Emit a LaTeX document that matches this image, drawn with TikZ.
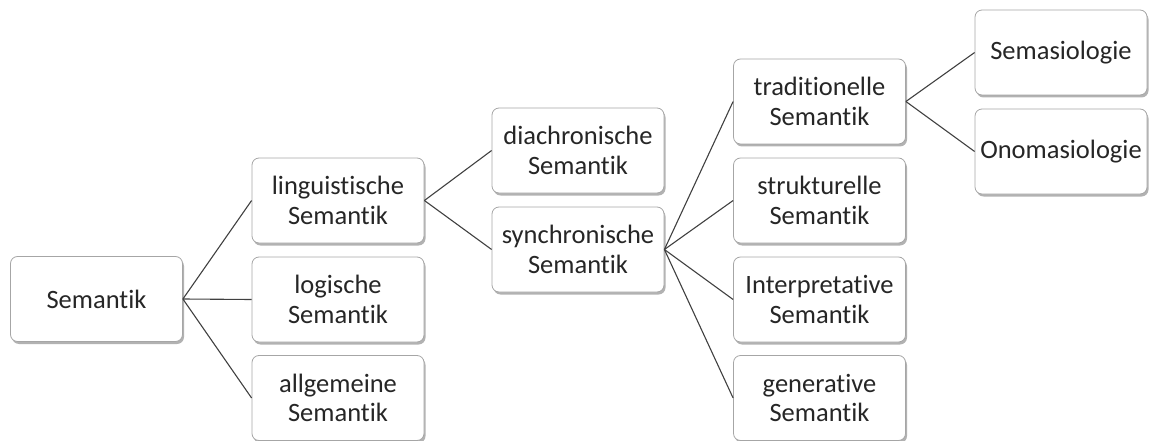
\documentclass[tikz,border=0pt]{standalone}
\usepackage{fontspec}
\setmainfont{Carlito}[Ligatures={NoCommon,NoContextual}]
\usetikzlibrary{shadows}
\definecolor{boxline}{HTML}{A6A6A6}
\definecolor{conn}{HTML}{404040}
\definecolor{txt}{HTML}{262626}
\tikzset{
  box/.style={draw=boxline, line width=0.8pt, rounded corners=7pt, fill=white,
    minimum width=172pt, minimum height=85pt, inner sep=0pt, align=center,
    font=\fontsize{26.5}{29.5}\selectfont, text=txt,
    drop shadow={shadow xshift=1.5pt, shadow yshift=-2.5pt, opacity=0.3, fill=black}},
  link/.style={draw=conn, line width=1.1pt}
}
\begin{document}
\begin{tikzpicture}[x=1pt,y=-1pt]
\useasboundingbox (0,0) rectangle (1151,441);
\node[box] (sem) at (96.5,299) {Semantik};
\node[box] (ling) at (338,200.5) {linguistische\\Semantik};
\node[box] (log) at (338,299.5) {logische\\Semantik};
\node[box] (allg) at (338,398) {allgemeine\\Semantik};
\node[box] (dia) at (578,150.5) {diachronische\\Semantik};
\node[box] (syn) at (578,249.5) {synchronische\\Semantik};
\node[box] (trad) at (819.5,101.5) {traditionelle\\Semantik};
\node[box] (strukt) at (819.5,200.5) {strukturelle\\Semantik};
\node[box] (interp) at (819.5,299.5) {Interpretative\\Semantik};
\node[box] (gen) at (819.5,398) {generative\\Semantik};
\node[box] (sema) at (1061,52.5) {Semasiologie};
\node[box] (onoma) at (1061,151.5) {Onomasiologie};
\draw[link] (sem.east) -- (ling.west);
\draw[link] (sem.east) -- (log.west);
\draw[link] (sem.east) -- (allg.west);
\draw[link] (ling.east) -- (dia.west);
\draw[link] (ling.east) -- (syn.west);
\draw[link] (syn.east) -- (trad.west);
\draw[link] (syn.east) -- (strukt.west);
\draw[link] (syn.east) -- (interp.west);
\draw[link] (syn.east) -- (gen.west);
\draw[link] (trad.east) -- (sema.west);
\draw[link] (trad.east) -- (onoma.west);
\end{tikzpicture}
\end{document}
